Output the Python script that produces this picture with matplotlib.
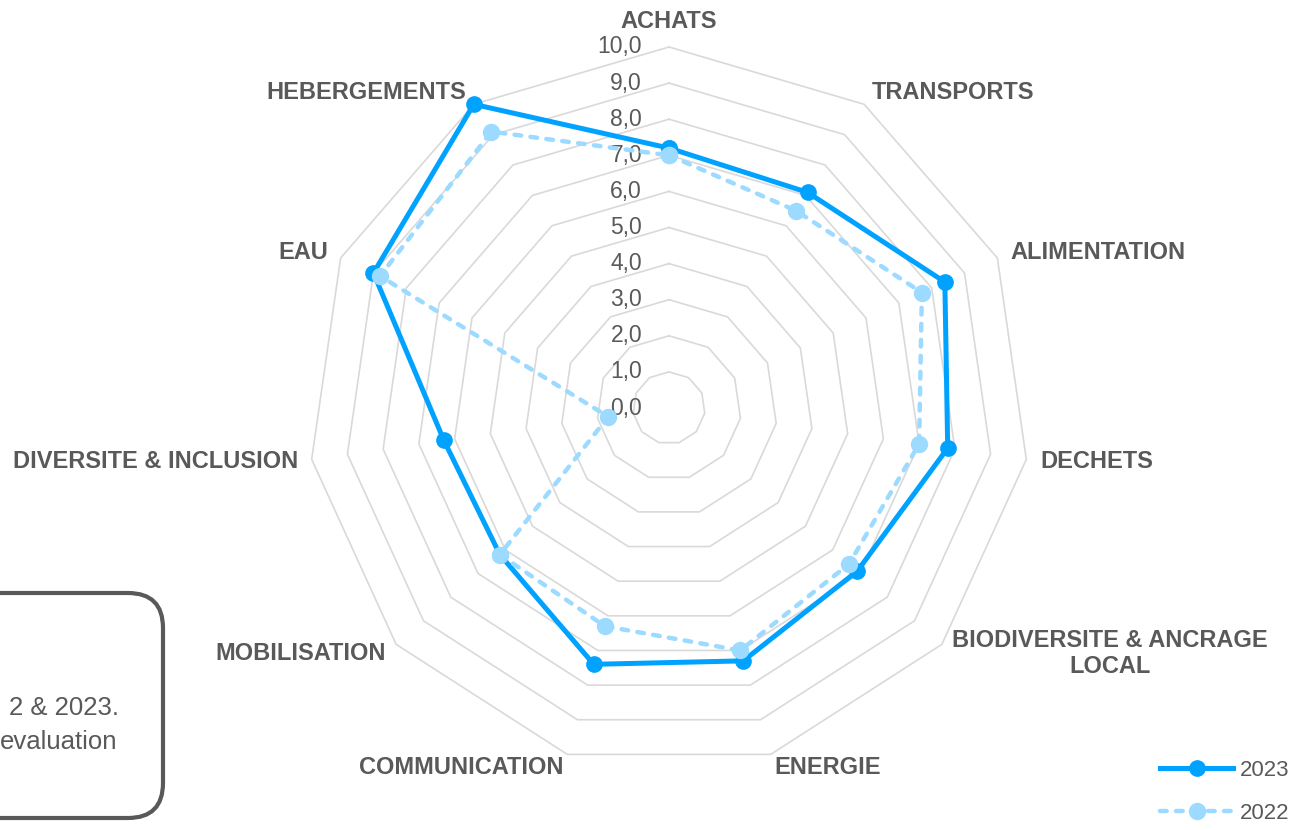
import numpy as np
import matplotlib.pyplot as plt
from matplotlib.patches import FancyBboxPatch

plt.rcParams['font.family'] = ['Liberation Sans', 'DejaVu Sans']

# categories, clockwise from the top
categories = ['ACHATS', 'TRANSPORTS', 'ALIMENTATION', 'DECHETS',
              'BIODIVERSITE & ANCRAGE\nLOCAL', 'ENERGIE', 'COMMUNICATION',
              'MOBILISATION', 'DIVERSITE & INCLUSION', 'EAU', 'HEBERGEMENTS']
scores_2023 = [7.2, 7.1, 8.4, 7.8, 6.9, 7.3, 7.4, 6.2, 6.3, 9.0, 10.0]
scores_2022 = [7.0, 6.5, 7.7, 7.0, 6.6, 7.0, 6.3, 6.2, 1.7, 8.8, 9.1]
ring_values = [1, 2, 3, 4, 5, 6, 7, 8, 9, 10]
tick_values = [0, 1, 2, 3, 4, 5, 6, 7, 8, 9, 10]
note_lines = ['2 & 2023.', 'evaluation']

text_grey = '#595959'
grid_grey = '#D9D9D9'
blue_2023 = '#00A2FF'
blue_2022 = '#9DDAFF'

fig = plt.figure(figsize=(12.94, 8.30), dpi=100)
ax = fig.add_axes([308 / 1294, 61 / 830, 722 / 1294, 722 / 830], projection='polar')
ax.set_theta_zero_location('N')
ax.set_theta_direction(-1)
ax.set_ylim(0, 10)
ax.grid(False)
ax.set_xticks([])
ax.set_yticks([])
ax.spines['polar'].set_visible(False)
ax.patch.set_visible(False)

n = len(categories)
angles = np.linspace(0, 2 * np.pi, n, endpoint=False)
closed = np.append(angles, angles[0])

# polygon rings
for v in ring_values:
    ax.plot(closed, [v] * (n + 1), color=grid_grey, lw=1.2, zorder=1, clip_on=False)

# radial value labels
for v in tick_values:
    ax.annotate(f'{v:.1f}'.replace('.', ','), xy=(0, v), xytext=(-27, 0),
                textcoords='offset pixels', ha='right', va='center',
                fontsize=16.5, color=text_grey)

# category labels
for a, name in zip(angles, categories):
    s, c = np.sin(a), np.cos(a)
    ha = 'left' if s > 0.1 else ('right' if s < -0.1 else 'center')
    va = 'bottom' if c > 0.95 else 'center'
    ax.annotate(name, xy=(a, 10), xytext=(14 * s, 14 * c), textcoords='offset pixels',
                ha=ha, va=va, multialignment='center', fontsize=17,
                fontweight='bold', color=text_grey, linespacing=1.2)

# series
ax.plot(closed, scores_2023 + scores_2023[:1], color=blue_2023, lw=3.6,
        marker='o', ms=11, label='2023', zorder=3, clip_on=False)
ax.plot(closed, scores_2022 + scores_2022[:1], color=blue_2022, lw=3.2,
        linestyle=(0, (1.5, 2.1)), dash_capstyle='round',
        marker='o', ms=11.5, label='2022', zorder=4, clip_on=False)

fig.legend(loc='upper left', bbox_to_anchor=(1160 / 1294, 1 - 760 / 830),
           frameon=False, fontsize=16, handlelength=3.3, handletextpad=0.3,
           labelspacing=1.0, borderpad=0, borderaxespad=0, labelcolor=text_grey)

# rounded note box, cut by the left edge
box = FancyBboxPatch((-1.0, 0.12), 2.63, 2.25,
                     boxstyle='round,pad=0,rounding_size=0.35',
                     transform=fig.dpi_scale_trans, facecolor='white',
                     edgecolor=text_grey, lw=3, zorder=0)
fig.patches.append(box)
fig.text(1.19, 1.22, note_lines[0], transform=fig.dpi_scale_trans,
         ha='right', va='center', fontsize=18.5, color=text_grey)
fig.text(1.17, 0.88, note_lines[1], transform=fig.dpi_scale_trans,
         ha='right', va='center', fontsize=18.5, color=text_grey)

fig.savefig('out.png', dpi=100)
